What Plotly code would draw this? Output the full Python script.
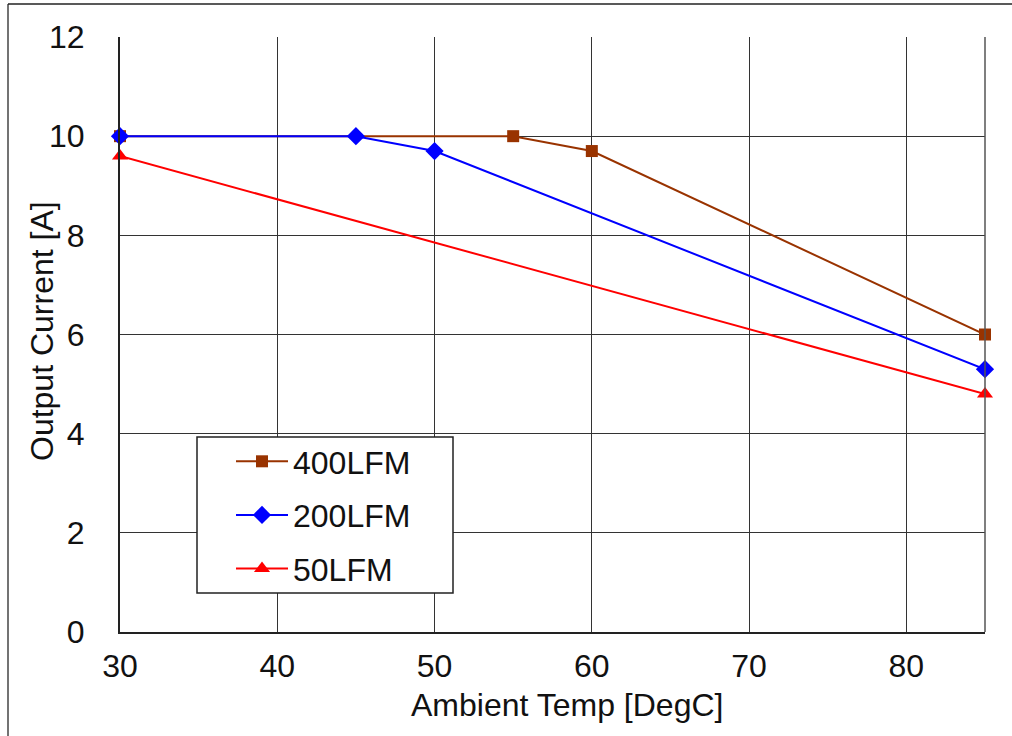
import plotly.graph_objects as go

temp_400 = [30, 55, 60, 85]
curr_400 = [10.0, 10.0, 9.7, 6.0]
temp_200 = [30, 45, 50, 85]
curr_200 = [10.0, 10.0, 9.7, 5.3]
temp_50 = [30, 85]
curr_50 = [9.6, 4.8]

x_ticks = [30, 40, 50, 60, 70, 80]
y_ticks = [0, 2, 4, 6, 8, 10, 12]

FONT = "Liberation Sans, Arial, sans-serif"
W, H = 1012, 736
L, R, T, B = 120, 27, 37, 104
PW, PH = W - L - R, H - T - B


def px(x):
    return (x - L) / PW


def py(y):
    return (H - B - y) / PH


fig = go.Figure()
fig.add_trace(go.Scatter(x=temp_400, y=curr_400, name="400LFM", mode="lines+markers",
                         line=dict(color="#993300", width=2),
                         marker=dict(symbol="square", size=12, color="#993300"),
                         legendgroup="a", cliponaxis=False))
fig.add_trace(go.Scatter(x=temp_200, y=curr_200, name="200LFM", mode="lines+markers",
                         line=dict(color="#0000FF", width=2),
                         marker=dict(symbol="diamond", size=14, color="#0000FF"),
                         legendgroup="b", cliponaxis=False))
fig.add_trace(go.Scatter(x=temp_50, y=curr_50, name="50LFM", mode="lines+markers",
                         line=dict(color="#FF0000", width=2),
                         marker=dict(symbol="triangle-up", size=14, color="#FF0000"),
                         legendgroup="c", cliponaxis=False))

fig.update_layout(
    width=W, height=H,
    margin=dict(l=L, r=R, t=T, b=B),
    paper_bgcolor="white", plot_bgcolor="white",
    font=dict(family=FONT, size=32, color="#111111"),
    showlegend=True,
    legend=dict(x=px(231), y=py(434), xanchor="left", yanchor="top",
                bgcolor="rgba(0,0,0,0)", borderwidth=0,
                font=dict(family=FONT, size=32, color="#111111"),
                traceorder="grouped", tracegroupgap=9,
                itemwidth=52),
    xaxis=dict(range=[30, 85], tickvals=x_ticks, showgrid=True,
               gridcolor="#333333", gridwidth=1,
               showline=True, linecolor="#222222", linewidth=2, mirror=False,
               ticks="outside", ticklen=5, tickcolor="rgba(0,0,0,0)",
               zeroline=False),
    yaxis=dict(range=[0, 12], tickvals=y_ticks, showgrid=True,
               gridcolor="#333333", gridwidth=1,
               showline=True, linecolor="#222222", linewidth=2, mirror=False,
               ticks="outside", ticklen=27, tickcolor="rgba(0,0,0,0)",
               zeroline=False),
)

# axis titles
fig.add_annotation(text="Ambient Temp [DegC]", xref="paper", yref="paper",
                   x=px(567), y=py(705), xanchor="center", yanchor="middle",
                   showarrow=False, font=dict(family=FONT, size=32, color="#111111"))
fig.add_annotation(text="Output Current [A]", xref="paper", yref="paper",
                   x=px(42), y=py(331), xanchor="center", yanchor="middle",
                   textangle=-90, showarrow=False,
                   font=dict(family=FONT, size=32, color="#111111"))

# legend frame
fig.add_shape(type="rect", xref="paper", yref="paper",
              x0=px(197), x1=px(453), y0=py(593), y1=py(437),
              fillcolor="white", line=dict(color="#222222", width=1.5), layer="above")
# right edge of plot frame
fig.add_shape(type="line", xref="paper", yref="paper", x0=1, x1=1, y0=0, y1=1,
              line=dict(color="#555555", width=1.5))
# outer picture border (left and top)
fig.add_shape(type="line", xref="paper", yref="paper",
              x0=px(8), x1=px(8), y0=py(H + 5), y1=py(4),
              line=dict(color="#444444", width=1.5))
fig.add_shape(type="line", xref="paper", yref="paper",
              x0=px(8), x1=px(W + 5), y0=py(4), y1=py(4),
              line=dict(color="#222222", width=1.5))

fig.write_html("out.html", config={"displayModeBar": False},
               post_script="document.body.style.margin='0';")
